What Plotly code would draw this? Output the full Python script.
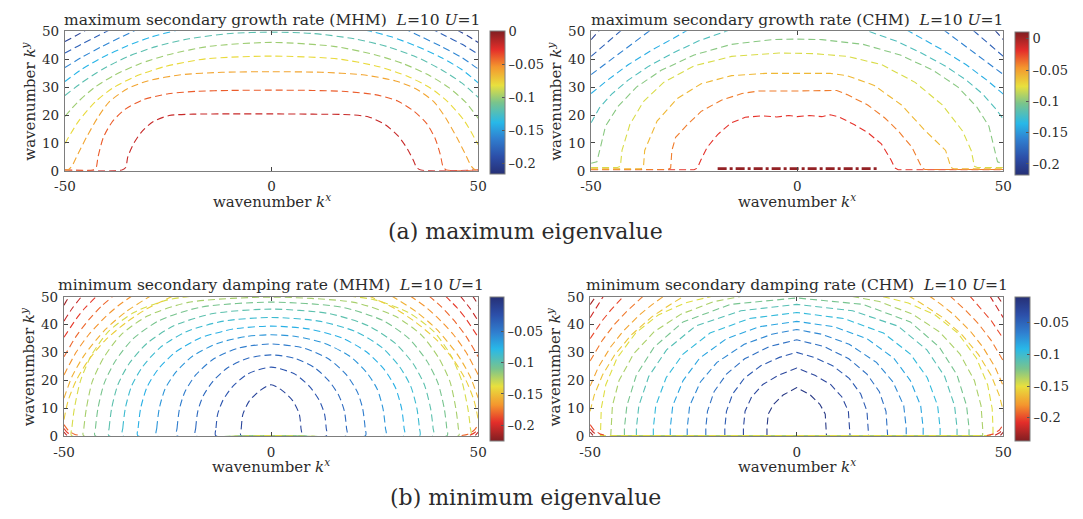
import plotly.graph_objects as go
from plotly.colors import sample_colorscale

W, H = 1083, 519

# ---------------- tick labels ----------------
x_ticks = [-50, 0, 50]
x_tick_text = ["-50", "0", "50"]
y_ticks = [0, 10, 20, 30, 40, 50]
cbar_ticks_grow = [0, -0.05, -0.1, -0.15, -0.2]
cbar_ticks_damp = [-0.05, -0.1, -0.15, -0.2]

# ---------------- maximum growth rate, MHM ----------------
mhm_grow_levels = [-0.02, -0.04, -0.06, -0.08, -0.10, -0.12, -0.14, -0.16, -0.18, -0.20]
mhm_grow_kx = [
    [-50, -36.2, -35.3, -34.8, -33.4, -31.6, -28.7, -24.8, -19, -10, 0, 10, 19, 23.5, 27.5, 30.6, 32.8, 34.3, 35.1, 36.1, 50],
    [-50, -43.3, -42.5, -42.0, -40.7, -38.6, -35.5, -31, -25, -18, -10, 0, 10, 18, 25, 30.5, 34.5, 37.6, 39.6, 40.8, 41.5, 42.3, 50],
    [-50, -49.2, -48.4, -46.8, -44.8, -42.1, -39.3, -35, -30, -22, -12, 0, 12, 22, 30, 35, 39.3, 42.1, 44.8, 46.8, 48.4, 49.2, 50],
    [-50, -46.7, -42.6, -38.5, -33, -26, -16, 0, 16, 26, 33, 38.5, 42.6, 46.7, 50],
    [-50, -47, -43, -38, -32, -25, -15, 0, 15, 25, 32, 38, 43, 47, 50],
    [-50, -46, -41, -35, -28, -20, -10, 0, 10, 20, 28, 35, 41, 46, 50],
    [-50, -46, -41, -35, -29, -23, -20, None, 20, 23, 29, 35, 41, 46, 50],
    [-50, -46, -41, -36, -32, None, 32, 36, 41, 46, 50],
    [-50, -46, -42, -38.5, None, 38.5, 42, 46, 50],
    [-50, -47.5, -44.8, None, 44.8, 47.5, 50],
]
mhm_grow_ky = [
    [0.3, 0.3, 1.2, 5, 9.7, 13.7, 17.6, 19.8, 20.3, 20.4, 20.4, 20.3, 20.1, 19.3, 16.5, 12.5, 8, 3.8, 1.2, 0.3, 0.3],
    [0.3, 0.3, 1.0, 5, 12, 17.5, 22, 25.5, 27.6, 28.5, 28.8, 28.9, 28.8, 28.4, 27.3, 25, 21.3, 16.8, 11.5, 6, 1.5, 0.3, 0.3],
    [0.3, 0.4, 1.5, 6.2, 12, 19, 24.7, 29.3, 32.2, 34.4, 35.3, 35.5, 35.3, 34.4, 32.2, 29.3, 24.7, 19, 12, 6.2, 1.5, 0.4, 0.3],
    [9.8, 17.8, 24.8, 29.6, 33.8, 37.3, 40.1, 41.1, 40.1, 37.3, 33.8, 29.6, 24.8, 17.8, 9.3],
    [19.5, 24.5, 29.7, 34.3, 38.3, 41.6, 44.6, 46.0, 44.6, 41.6, 38.3, 34.3, 29.7, 24.5, 18.8],
    [27, 31.5, 36.3, 40.8, 44.5, 47.3, 49.2, 49.7, 49.2, 47.3, 44.5, 40.8, 36.3, 31.5, 26.3],
    [32, 36.3, 40.6, 44.7, 48, 50.3, 51, None, 51, 50.3, 48, 44.7, 40.6, 36.3, 31.5],
    [37, 40.6, 44.6, 48.2, 51, None, 51, 48.2, 44.6, 40.6, 36.5],
    [42.2, 45.4, 48.4, 51, None, 51, 48.4, 45.4, 41.8],
    [46.3, 48.3, 50.5, None, 50.5, 48.3, 46],
]

# ---------------- maximum growth rate, CHM ----------------
chm_grow_levels = [-0.02, -0.04, -0.06, -0.08, -0.10, -0.12, -0.14, -0.16, -0.18, -0.20]
chm_grow_kx = [
    [-50, -25, -24.2, -23.4, -21.8, -19.3, -16, -12.6, -8.5, -5, -2, 0, 3, 6, 8, 10, 13.8, 17.1, 20.4, 22.8, 23.7, 24.5, 50],
    [-50, -31.4, -30.7, -30.4, -29.5, -26.6, -23.3, -18.4, -13.4, -9.3, 0, 9.6, 12.1, 17.1, 21.2, 24.5, 27.8, 29.8, 30.3, 31, 50],
    [-50, -38, -37.3, -37, -34, -29.1, -23.3, -15.9, -7.7, 0, 8, 12.1, 18.7, 25.3, 31.1, 36, 37.3, 38, 50],
    [-50, -43.6, -42.9, -42.5, -40.6, -37.3, -32.4, -25, -15.9, -4.4, 3.9, 12.1, 20.4, 28.6, 35.2, 40.1, 42.2, 43, 43.7, 50],
    [-50, -48.6, -47.8, -46.5, -43.5, -39, -33, -25, -16, -6, 0, 6, 16, 25, 33, 39, 43.5, 46.5, 47.8, 48.6, 50],
    [-50, -48, -45, -41, -36, -30, -24, -18, -15, None, 15, 18, 24, 30, 36, 41, 45, 48, 50],
    [-50, -46, -41, -35, -30, -26.5, None, 26.5, 30, 35, 41, 46, 50],
    [-50, -46, -41, -35.5, None, 35.5, 41, 46, 50],
    [-50, -46.5, -42.7, None, 42.7, 46.5, 50],
    [-50, -48, None, 48, 50],
]
chm_grow_ky = [
    [0.4, 0.4, 1.0, 3.8, 8.5, 13, 17.2, 19.2, 19.7, 19.3, 19.8, 19.4, 19.8, 19.4, 20.1, 19.4, 16.6, 13.7, 9.7, 3.8, 1.0, 0.4, 0.4],
    [0.5, 0.5, 1.0, 7.3, 12, 16.6, 21.3, 25.3, 27.7, 28.6, 28.6, 28.8, 27.3, 23.6, 19, 14.3, 8.5, 2.7, 1.0, 0.5, 0.5],
    [0.7, 0.7, 1.2, 7.3, 17.8, 25.9, 31.2, 34.1, 34.9, 34.9, 34.9, 34.1, 30.6, 23.6, 14.3, 7.3, 1.2, 0.7, 0.7],
    [1.2, 1.2, 1.6, 7.3, 16.6, 24.8, 31.7, 37.6, 41, 42.2, 42, 41, 38.1, 31.7, 23.6, 14.3, 7.3, 1.6, 1.2, 1.2],
    [2.7, 3.2, 8, 16, 23, 30, 36, 41.5, 45.3, 47, 47.2, 47, 45.3, 41.5, 36, 30, 23, 16, 8, 3.2, 2.5],
    [17.2, 22.5, 27.5, 32.5, 37.5, 42.3, 46.5, 49.6, 51.2, None, 51.2, 49.6, 46.5, 42.3, 37.5, 32.5, 27.5, 22.5, 18.5],
    [27.7, 32.5, 38, 43.5, 47.5, 50.5, None, 50.5, 47.5, 43.5, 38, 32.5, 27.5],
    [34.5, 39, 44.5, 50.5, None, 50.5, 44.5, 39, 34.5],
    [41, 45.5, 50.3, None, 50.3, 45.5, 41],
    [47, 50.3, None, 50.3, 47],
]
# marginal (zero growth) curve along the k^y = 0 edge
chm_grow_zero_level = 0.005
chm_grow_zero_kx = [-19.3, 0, 19.5]
chm_grow_zero_ky = [0.8, 0.8, 0.8]

# ---------------- minimum damping rate, MHM ----------------
mhm_damp_levels = [-0.015, -0.027, -0.039, -0.050, -0.062, -0.074, -0.086, -0.098, -0.109,
                   -0.121, -0.133, -0.145, -0.157, -0.168, -0.180, -0.192, -0.204, -0.216]
mhm_damp_kx = [
    [-7.3, -7.2, -6.8, -5.2, -2.7, 0, 2.7, 5.2, 6.8, 7.2, 7.3, 0, -7.3],
    [-13.4, -13.3, -12.9, -11.6, -9.2, -5.6, 0, 5.6, 9.2, 11.6, 12.9, 13.3, 13.4, 0, -13.4],
    [-18.3, -18.2, -17.7, -16.4, -14, -10.5, -5.6, 0, 5.6, 10.5, 14, 16.4, 17.7, 18.2, 18.3, 0, -18.3],
    [-22.8, -22.7, -22.1, -20.8, -18.2, -14, -8, 0, 8, 14, 18.2, 20.8, 22.1, 22.7, 22.8, 0, -22.8],
    [-27.7, -27.6, -27, -25.6, -23, -19, -13, -6, 0, 6, 13, 19, 23, 25.6, 27, 27.6, 27.7, 0, -27.7],
    [-32.2, -32.1, -31.5, -30, -27.3, -23, -17, -9, 0, 9, 17, 23, 27.3, 30, 31.5, 32.1, 32.2, 0, -32.2],
    [-35.9, -35.8, -35.2, -33.7, -31, -26.8, -20.5, -11.5, 0, 11.5, 20.5, 26.8, 31, 33.7, 35.2, 35.8, 35.9, 0, -35.9],
    [-39.2, -39.1, -38.5, -37, -34.3, -30, -23.5, -14, 0, 14, 23.5, 30, 34.3, 37, 38.5, 39.1, 39.2, 0, -39.2],
    [-42.5, -42.4, -41.8, -40.3, -37.6, -33.3, -27, -17, 0, 17, 27, 33.3, 37.6, 40.3, 41.8, 42.4, 42.5, 0, -42.5],
    [-45.3, -45.2, -44.6, -43.2, -40.5, -36.3, -30, -20, 0, 20, 30, 36.3, 40.5, 43.2, 44.6, 45.2, 45.3, 0, -45.3],
    [-17, -25, -33, -39.3, -43.4, -46, -47.5, -48.1, -48.2, 0, 48.2, 48.1, 47.5, 46, 43.4, 39.3, 33, 25, 17],
    [-50, -49, -47, -44, -40, -35, -30, -23.5, None, 23.5, 30, 35, 40, 44, 47, 49, 50],
    [-50, -48, -45, -40, -35, -29, None, 29, 35, 40, 45, 48, 50],
    [-50, -47, -44, -40, -37, -33.5, None, 33.5, 37, 40, 44, 47, 50],
    [-50, -47, -44, -41, -38, None, 38, 41, 44, 47, 50, None,
     -50, -49, -47.5, -46, None, 46, 47.5, 49, 50],
    [-50, -47, -45, -42, None, 42, 45, 47, 50, None,
     -50, -49.2, -48, None, 48, 49.2, 50],
    [-50, -48, -45.6, None, 45.6, 48, 50, None,
     -50, -49.3, None, 49.3, 50],
    [-50, -49.4, -48.6, None, 48.6, 49.4, 50],
]
mhm_damp_ky = [
    [0.3, 3, 8, 12.8, 16.4, 18.5, 16.4, 12.8, 8, 3, 0.3, 0.3, 0.3],
    [0.3, 3, 8, 13, 18, 22.4, 24.8, 22.4, 18, 13, 8, 3, 0.3, 0.3, 0.3],
    [0.3, 3, 9, 14.5, 19.8, 24.6, 28, 29.2, 28, 24.6, 19.8, 14.5, 9, 3, 0.3, 0.3, 0.3],
    [0.3, 3, 10, 16, 22, 27.6, 31.6, 33.1, 31.6, 27.6, 22, 16, 10, 3, 0.3, 0.3, 0.3],
    [0.3, 3, 10, 17, 23, 28.7, 33.3, 35.8, 36.4, 35.8, 33.3, 28.7, 23, 17, 10, 3, 0.3, 0.3, 0.3],
    [0.3, 3, 10, 17.5, 24, 30.3, 35.3, 38.5, 39.5, 38.5, 35.3, 30.3, 24, 17.5, 10, 3, 0.3, 0.3, 0.3],
    [0.3, 3, 10, 18, 25, 31.8, 37.5, 41.3, 42.6, 41.3, 37.5, 31.8, 25, 18, 10, 3, 0.3, 0.3, 0.3],
    [0.3, 3, 10, 18.5, 26, 33.3, 39.6, 44, 45.6, 44, 39.6, 33.3, 26, 18.5, 10, 3, 0.3, 0.3, 0.3],
    [0.3, 3, 10, 19, 27, 35, 41.5, 46.3, 48.1, 46.3, 41.5, 35, 27, 19, 10, 3, 0.3, 0.3, 0.3],
    [0.3, 3, 10, 19.5, 28, 36.3, 43, 48, 49.9, 48, 43, 36.3, 28, 19.5, 10, 3, 0.3, 0.3, 0.3],
    [50.6, 48.9, 44.5, 37.5, 29, 20, 10, 3, 0.3, 0.3, 0.3, 3, 10, 20, 29, 37.5, 44.5, 48.9, 50.6],
    [6, 12.8, 20.2, 27.5, 34.5, 40.8, 45.7, 50.4, None, 50.4, 45.7, 40.8, 34.5, 27.5, 20.2, 12.8, 6],
    [13.7, 21.6, 29.3, 38.3, 44.7, 50.4, None, 50.4, 44.7, 38.3, 29.3, 21.6, 13.7],
    [22, 30.3, 36.5, 42.8, 46.7, 50.4, None, 50.4, 46.7, 42.8, 36.5, 30.3, 22],
    [28.5, 36, 41.8, 46.6, 50.4, None, 50.4, 46.6, 41.8, 36, 28.5, None,
     4.2, 2.2, 0.8, 0.3, None, 0.3, 0.8, 2.2, 4.2],
    [35.5, 42.2, 45.9, 50.4, None, 50.4, 45.9, 42.2, 35.5, None,
     2.8, 1.4, 0.4, None, 0.4, 1.4, 2.8],
    [41.3, 45.9, 50.4, None, 50.4, 45.9, 41.3, None,
     1.5, 0.4, None, 0.4, 1.5],
    [47, 48.6, 50.4, None, 50.4, 48.6, 47],
]

# ---------------- minimum damping rate, CHM ----------------
chm_damp_levels = [-0.018, -0.031, -0.044, -0.057, -0.070, -0.083, -0.096, -0.109, -0.122,
                   -0.135, -0.148, -0.161, -0.174, -0.187, -0.200, -0.213, -0.226]
chm_damp_kx = [
    [-7.2, -7.2, -6.9, -5.6, -3.3, 0, 3.3, 5.6, 6.9, 7.2, 7.2, 0, -7.2],
    [-12.9, -12.9, -12.5, -10.9, -8.2, -4.4, 0, 4.4, 8.2, 10.9, 12.5, 12.9, 12.9, 0, -12.9],
    [-17.4, -17.4, -17, -15.5, -12.7, -8.7, -4.2, 0, 4.2, 8.7, 12.7, 15.5, 17, 17.4, 17.4, 0, -17.4],
    [-22, -22, -21.6, -20, -17, -12.6, -6.6, 0, 6.6, 12.6, 17, 20, 21.6, 22, 22, 0, -22],
    [-26.5, -26.5, -25.9, -23.3, -19.3, -12.7, -6, 0, 6, 12.7, 19.3, 23.3, 25.9, 26.5, 26.5, 0, -26.5],
    [-30.6, -30.6, -30, -27.5, -23.5, -17, -9, 0, 9, 17, 23.5, 27.5, 30, 30.6, 30.6, 0, -30.6],
    [-34.7, -34.7, -34.1, -31.6, -27.5, -21, -11.5, 0, 11.5, 21, 27.5, 31.6, 34.1, 34.7, 34.7, 0, -34.7],
    [-38.8, -38.8, -38.2, -35.8, -31.5, -24.5, -13.5, 0, 13.5, 24.5, 31.5, 35.8, 38.2, 38.8, 38.8, 0, -38.8],
    [-41.7, -41.7, -41.1, -38.8, -34.5, -27.5, -16, 0, 16, 27.5, 34.5, 38.8, 41.1, 41.7, 41.7, 0, -41.7],
    [-12.5, -20, -28, -34.5, -39.5, -43, -44.6, -45, -45, 0, 45, 45, 44.6, 43, 39.5, 34.5, 28, 20, 12.5],
    [-20, -27, -33.5, -39, -43.5, -46.2, -47.3, -47.5, -47.5, 0, 47.5, 47.5, 47.3, 46.2, 43.5, 39, 33.5, 27, 20],
    [-50, -49, -47, -44, -40, -35, -30, -27, None, 27, 30, 35, 40, 44, 47, 49, 50],
    [-50, -48, -45, -42, -38, -35, -32, None, 32, 35, 38, 42, 45, 48, 50],
    [-50, -47, -44, -41, -37, None, 37, 41, 44, 47, 50],
    [-50, -47, -45, -41.8, None, 41.8, 45, 47, 50, None,
     -50, -49, -47.5, -46, None, 46, 47.5, 49, 50],
    [-50, -48.5, -46.7, None, 46.7, 48.5, 50, None,
     -50, -49.2, -48, None, 48, 49.2, 50],
    [-50, -49.2, -48.5, None, 48.5, 49.2, 50, None,
     -50, -49.3, None, 49.3, 50],
]
chm_damp_ky = [
    [0.3, 3, 8, 11.5, 14.8, 17.5, 14.8, 11.5, 8, 3, 0.3, 0.3, 0.3],
    [0.3, 3, 9, 14.2, 18.6, 21.9, 24.5, 21.9, 18.6, 14.2, 9, 3, 0.3, 0.3, 0.3],
    [0.3, 3, 9, 15.2, 20.8, 25.3, 28.3, 30.1, 28.3, 25.3, 20.8, 15.2, 9, 3, 0.3, 0.3, 0.3],
    [0.3, 3, 9, 16, 22.3, 27.8, 32.2, 34.6, 32.2, 27.8, 22.3, 16, 9, 3, 0.3, 0.3, 0.3],
    [0.3, 3, 11, 19.5, 26.5, 33, 36.6, 38.3, 36.6, 33, 26.5, 19.5, 11, 3, 0.3, 0.3, 0.3],
    [0.3, 3, 11, 20, 28, 35, 39.3, 41.2, 39.3, 35, 28, 20, 11, 3, 0.3, 0.3, 0.3],
    [0.3, 3, 11, 21, 29.5, 37, 42.2, 44.4, 42.2, 37, 29.5, 21, 11, 3, 0.3, 0.3, 0.3],
    [0.3, 3, 11, 21.5, 31, 39.5, 45, 47.3, 45, 39.5, 31, 21.5, 11, 3, 0.3, 0.3, 0.3],
    [0.3, 3, 11, 22, 32, 41, 47.3, 49.6, 47.3, 41, 32, 22, 11, 3, 0.3, 0.3, 0.3],
    [50.4, 48.3, 43.8, 37.5, 29.5, 20, 11, 3, 0.3, 0.3, 0.3, 3, 11, 20, 29.5, 37.5, 43.8, 48.3, 50.4],
    [50.4, 47.8, 43.5, 37, 28, 18.5, 10, 3, 0.3, 0.3, 0.3, 3, 10, 18.5, 28, 37, 43.5, 47.8, 50.4],
    [9, 14.8, 22, 29.3, 36.4, 42.9, 47.8, 50.4, None, 50.4, 47.8, 42.9, 36.4, 29.3, 22, 14.8, 9],
    [18, 24.8, 32.1, 37.7, 43.6, 47.2, 50.4, None, 50.4, 47.2, 43.6, 37.7, 32.1, 24.8, 18],
    [27, 34.5, 40.3, 45, 50.4, None, 50.4, 45, 40.3, 34.5, 27],
    [35, 41.6, 45.2, 50.4, None, 50.4, 45.2, 41.6, 35, None,
     4.2, 2.2, 0.8, 0.3, None, 0.3, 0.8, 2.2, 4.2],
    [42.5, 46.3, 50.4, None, 50.4, 46.3, 42.5, None,
     2.8, 1.4, 0.4, None, 0.4, 1.4, 2.8],
    [47.2, 49, 50.4, None, 50.4, 49, 47.2, None,
     1.5, 0.4, None, 0.4, 1.5],
]

# ---------------- colour ranges of the four colorbars ----------------
mhm_grow_crange = [-0.217, 0.0]
chm_grow_crange = [-0.218, 0.0107]
mhm_damp_crange = [-0.225, 0.0056]
chm_damp_crange = [-0.236, -0.010]

# jet-like map, muted
JET = [
    [0.00, "rgb(38,48,118)"],
    [0.12, "rgb(44,78,168)"],
    [0.25, "rgb(48,128,208)"],
    [0.36, "rgb(40,184,232)"],
    [0.50, "rgb(122,196,140)"],
    [0.62, "rgb(232,224,62)"],
    [0.75, "rgb(244,150,46)"],
    [0.87, "rgb(228,46,42)"],
    [1.00, "rgb(128,30,34)"],
]
JET_R = [[round(1 - p, 4), c] for p, c in reversed(JET)]

FONT = "DejaVu Serif"
TXT = "#2b2b2b"
FRAME = "#7d7d7d"
DASH = "7px,4px"

# panel boxes in pixels: (left, right, top, bottom)
boxes = [(55, 476, 24, 168), (591, 1011, 24, 168), (54, 476, 298, 442), (590, 1011, 298, 442)]
# colorbar boxes in pixels: (left, top, height, thickness)
cbars = [(488, 24, 143, 15), (1023, 25, 143, 14), (488, 298, 144, 14), (1023, 298, 144, 15)]

fig = go.Figure()


def level_color(level, crange, scale):
    t = (level - crange[0]) / (crange[1] - crange[0])
    t = min(max(t, 0.0), 1.0)
    return sample_colorscale(scale, [t])[0]


def add_panel(idx, kx_lines, ky_lines, levels, crange, scale, shape, cticks):
    xa = "x" if idx == 1 else f"x{idx}"
    ya = "y" if idx == 1 else f"y{idx}"
    for kx, ky, lev in zip(kx_lines, ky_lines, levels):
        line = dict(color=level_color(lev, crange, scale), width=1.1, dash=DASH, shape=shape)
        if shape == "spline":
            line["smoothing"] = 0.7
        fig.add_trace(go.Scatter(x=kx, y=ky, mode="lines", line=line, xaxis=xa, yaxis=ya,
                                 hoverinfo="skip", showlegend=False, connectgaps=False))
    cl, ct, ch, cw = cbars[idx - 1]
    fig.add_trace(go.Scatter(
        x=[0], y=[-100], mode="markers", xaxis=xa, yaxis=ya, hoverinfo="skip", showlegend=False,
        marker=dict(size=1, color=[crange[0]], colorscale=scale, cmin=crange[0], cmax=crange[1],
                    showscale=True,
                    colorbar=dict(x=cl / W, xanchor="left", xpad=0, y=1 - ct / H, yanchor="top", ypad=0,
                                  lenmode="pixels", len=ch, thicknessmode="pixels", thickness=cw,
                                  outlinecolor=FRAME, outlinewidth=1, ticks="inside", ticklen=3,
                                  tickcolor="#555", tickvals=cticks,
                                  ticktext=[("–" + f"{abs(v):g}") if v < 0 else f"{v:g}" for v in cticks],
                                  tickfont=dict(family=FONT, size=13, color=TXT)))))


add_panel(1, mhm_grow_kx, mhm_grow_ky, mhm_grow_levels, mhm_grow_crange, JET, "spline", cbar_ticks_grow)
add_panel(2, chm_grow_kx, chm_grow_ky, chm_grow_levels, chm_grow_crange, JET, "linear", cbar_ticks_grow)
fig.add_trace(go.Scatter(x=chm_grow_zero_kx, y=chm_grow_zero_ky, mode="lines", xaxis="x2", yaxis="y2",
                         line=dict(color=level_color(chm_grow_zero_level, chm_grow_crange, JET),
                                   width=2.6, dash="dashdot"),
                         hoverinfo="skip", showlegend=False))
add_panel(3, mhm_damp_kx, mhm_damp_ky, mhm_damp_levels, mhm_damp_crange, JET_R, "spline", cbar_ticks_damp)
add_panel(4, chm_damp_kx, chm_damp_ky, chm_damp_levels, chm_damp_crange, JET_R, "linear", cbar_ticks_damp)

layout = dict(width=W, height=H, margin=dict(l=0, r=0, t=0, b=0),
              paper_bgcolor="white", plot_bgcolor="white", showlegend=False)
axis_common = dict(showgrid=False, zeroline=False, showline=True, linecolor=FRAME, linewidth=1.3,
                   mirror="ticks", ticks="inside", ticklen=4, tickcolor="#444",
                   tickfont=dict(family=FONT, size=13.5, color=TXT))
annotations = []
titles = [
    "maximum secondary growth rate (MHM)\u00a0\u00a0<i>L</i>=10 <i>U</i>=1",
    "maximum secondary growth rate (CHM)\u00a0\u00a0<i>L</i>=10 <i>U</i>=1",
    "minimum secondary damping rate (MHM)\u00a0\u00a0<i>L</i>=10 <i>U</i>=1",
    "minimum secondary damping rate (CHM)\u00a0\u00a0<i>L</i>=10 <i>U</i>=1",
]
for i, (l, r, t, b) in enumerate(boxes, start=1):
    sfx = "" if i == 1 else str(i)
    layout[f"xaxis{sfx}"] = dict(axis_common, domain=[l / W, r / W], range=[-50, 50],
                                 tickvals=x_ticks, ticktext=x_tick_text, ticklabelstandoff=3,
                                 anchor=f"y{sfx}")
    layout[f"yaxis{sfx}"] = dict(axis_common, domain=[1 - b / H, 1 - t / H], range=[0, 50],
                                 tickvals=y_ticks, ticklabelstandoff=2, anchor=f"x{sfx}")
    cx = (l + r) / 2
    annotations.append(dict(text=titles[i - 1], x=cx / W, y=1 - (t - 12) / H, xref="paper", yref="paper",
                            xanchor="center", yanchor="middle", showarrow=False,
                            font=dict(family=FONT, size=15.5, color=TXT)))
    annotations.append(dict(text="wavenumber <i>k</i><sup><i>x</i></sup>", x=cx / W, y=1 - (b + 31) / H,
                            xref="paper", yref="paper", xanchor="center", yanchor="middle",
                            showarrow=False, font=dict(family=FONT, size=15, color=TXT)))
    annotations.append(dict(text="wavenumber <i>k</i><sup><i>y</i></sup>", x=(l - 37) / W,
                            y=1 - ((t + b) / 2) / H, xref="paper", yref="paper", xanchor="center",
                            yanchor="middle", textangle=-90, showarrow=False,
                            font=dict(family=FONT, size=15, color=TXT)))

annotations.append(dict(text="(a) maximum eigenvalue", x=524 / W, y=1 - 231 / H, xref="paper", yref="paper",
                        xanchor="center", yanchor="middle", showarrow=False,
                        font=dict(family=FONT, size=22, color=TXT)))
annotations.append(dict(text="(b) minimum eigenvalue", x=524 / W, y=1 - 505 / H, xref="paper", yref="paper",
                        xanchor="center", yanchor="middle", showarrow=False,
                        font=dict(family=FONT, size=22, color=TXT)))
layout["annotations"] = annotations
fig.update_layout(**layout)

fig.write_html("out.html")
